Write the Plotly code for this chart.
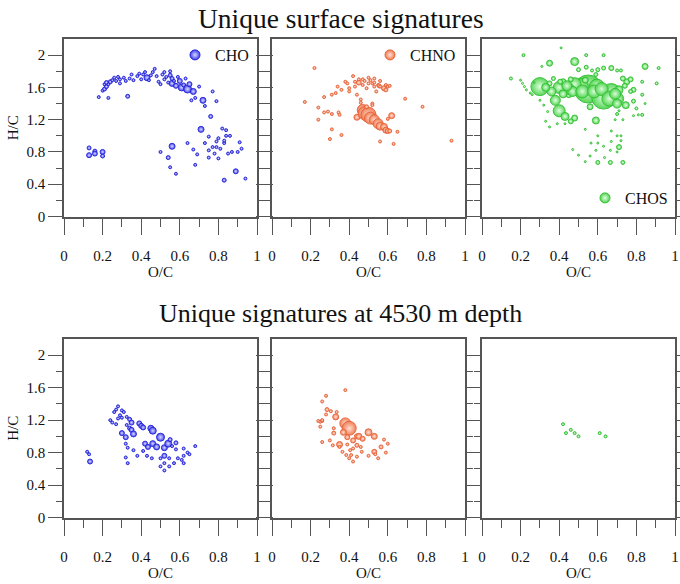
import plotly.graph_objects as go

W, H = 680, 584

# ---------------- data: unique surface signatures ----------------
cho_s_oc = [0.18,0.20,0.21,0.22,0.21,0.22,0.23,0.24,0.25,0.23,0.26,0.27,0.28,0.29,0.29,0.31,0.32,0.33,0.34,0.35,
            0.36,0.38,0.39,0.40,0.41,0.42,0.43,0.44,0.45,0.46,0.47,0.48,0.49,0.50,0.51,0.52,0.52,0.53,0.54,0.55,
            0.55,0.56,0.56,0.57,0.58,0.59,0.60,0.61,0.62,0.63,0.64,0.65,0.66,0.67,0.68,0.70,0.72,0.73,0.77,0.79,0.76,
            0.56,0.71,0.64,0.67,0.69,0.68,0.73,0.75,0.75,0.75,0.77,0.78,0.79,0.79,0.80,0.80,0.81,0.82,0.83,0.83,
            0.84,0.84,0.85,0.86,0.87,0.89,0.90,0.91,0.92,0.83,0.94,0.50,0.54,0.55,0.58,
            0.13,0.13,0.16,0.16,0.20,0.20]
cho_s_hc = [1.48,1.56,1.58,1.61,1.64,1.66,1.64,1.67,1.69,1.47,1.72,1.68,1.73,1.65,1.70,1.72,1.68,1.49,1.71,1.76,
            1.69,1.74,1.77,1.70,1.76,1.79,1.72,1.69,1.75,1.79,1.83,1.74,1.67,1.64,1.76,1.79,1.70,1.73,1.66,1.80,
            1.75,1.71,1.65,1.68,1.62,1.73,1.68,1.60,1.63,1.71,1.58,1.64,1.44,1.55,1.47,1.61,1.44,1.37,1.55,1.43,1.24,
            0.87,1.08,0.91,0.83,0.77,0.64,0.91,0.99,0.82,0.73,0.86,0.78,0.86,0.93,0.97,0.72,0.84,1.09,0.91,0.94,
            1.00,1.07,0.78,1.00,0.80,0.56,0.80,0.92,0.84,0.45,0.47,0.80,0.73,0.61,0.53,
            0.85,0.76,0.81,0.78,0.80,0.75]
cho_s_sz = [3,3,4,4,3,4,3,4,3,3,3,3,3,3,3,3,3,4,3,3,
            3,3,3,3,3,3,6,3,3,3,3,3,3,3,3,3,3,3,3,3,
            4,4,6,3,5,3,5,7,4,3,8,5,3,6,3,3,6,3,3,3,4,
            6,6,3,3,3,3,3,3,3,3,3,3,3,3,3,3,3,3,3,3,
            3,3,3,3,3,5,3,3,3,4,3,3,4,3,3,
            4,5,4,5,5,4]

chno_s_oc = [0.22,0.17,0.24,0.24,0.27,0.27,0.29,0.31,0.31,0.30,0.31,0.33,0.34,0.345,0.35,0.36,0.36,0.38,0.39,0.40,
             0.40,0.42,0.43,0.43,0.44,0.45,0.45,0.46,0.47,0.47,0.48,0.49,0.50,0.50,0.51,0.52,0.52,0.53,0.53,0.53,
             0.54,0.55,0.555,0.56,0.56,0.58,0.59,0.59,0.60,0.61,0.69,0.78,0.93,0.56,0.63,0.65,0.44,0.46,
             0.47,0.48,0.50,0.51,0.53,0.55,0.56,0.58,0.59,0.60,0.61,0.62,0.60,0.52,0.49]
chno_s_hc = [1.84,1.42,1.20,1.35,1.48,1.29,1.30,1.51,1.27,0.96,1.08,1.53,1.61,1.29,1.26,1.57,1.01,1.67,1.65,1.59,
             1.55,1.74,1.67,1.61,1.51,1.66,1.70,1.45,1.70,1.63,1.68,1.59,1.72,1.65,1.69,1.40,1.65,1.71,1.61,1.66,
             1.55,1.63,1.62,1.68,1.61,1.59,1.63,1.57,1.61,1.62,1.46,1.36,0.94,0.93,0.90,1.05,1.23,1.41,
             1.32,1.28,1.26,1.22,1.20,1.15,1.12,1.11,1.07,1.06,1.06,1.25,1.21,1.38,1.36]
chno_s_sz = [3,3,3,3,3,3,3,3,3,3,3,3,3,3,3,3,3,3,3,3,
             3,3,3,3,3,5,3,3,3,3,3,3,3,3,3,3,3,3,3,3,
             3,3,4,3,3,5,3,4,3,3,3,3,3,3,3,3,6,3,
             11,13,15,12,10,10,8,7,6,5,4,6,3,3,4]

chos_s_oc = [0.30,0.40,0.38,0.40,0.43,0.48,0.46,0.55,0.51,0.48,0.595,0.63,0.67,0.70,0.71,0.745,0.75,0.77,0.785,0.77,
             0.785,0.59,0.56,0.48,0.35,0.845,0.45,0.35,0.37,0.42,0.46,0.50,0.535,0.59,0.60,0.63,0.67,0.70,0.73,0.74,
             0.72,0.405,0.54,0.57,
             0.45,0.47,0.52,0.58,0.62,0.66,0.69,0.70,0.42,0.36,0.33,0.44,
             0.15,0.215,0.41,0.54,0.63,0.915,0.905,0.20,0.21,0.22,0.23,0.25,0.26,0.30,0.32,0.34,0.35,0.33,0.39,0.43,
             0.31,0.27,0.83,0.83,0.845,0.83,0.80,0.785,0.81,0.73,0.70,0.71,0.69,0.535,0.60,0.67,0.70,0.72,0.71,0.72,
             0.67,0.60,0.565,0.63,0.665,0.47,0.50,0.535,0.60,0.665,0.73,0.59,0.635,0.70,0.56]
chos_s_hc = [1.61,1.60,1.44,1.31,1.24,1.22,1.18,1.58,1.61,1.64,1.61,1.48,1.53,1.46,1.57,1.38,1.67,1.70,1.57,1.55,
             1.43,1.19,1.36,1.92,1.90,1.86,1.51,1.65,1.71,1.67,1.70,1.82,1.69,1.76,1.82,1.84,1.84,1.81,1.71,1.62,
             1.81,1.67,1.85,1.81,
             1.58,1.55,1.55,1.55,1.58,1.46,1.52,1.40,1.52,1.55,1.60,1.62,
             1.71,2.00,2.09,2.00,2.00,1.84,1.65,1.69,1.65,1.61,1.57,1.53,1.51,1.44,1.38,1.30,1.11,1.18,1.15,1.15,
             1.86,1.66,1.67,1.51,1.40,1.26,1.34,1.25,1.26,1.20,1.27,1.31,1.20,1.08,1.00,1.06,1.00,1.00,0.86,0.94,
             0.93,0.91,0.91,0.87,0.82,0.83,0.76,0.68,0.67,0.67,0.67,0.82,0.73,0.80,0.75]
chos_s_sz = [18,12,10,12,8,6,5,28,16,13,15,24,19,13,8,7,6,5,5,4,
             4,7,6,8,6,6,6,5,4,6,5,4,6,4,4,4,5,3,5,5,
             3,5,4,3,
             11,10,13,13,13,15,11,9,8,9,8,10,
             3,3,2,3,3,3,3,2,2,2,2,2,2,2,2,2,2,2,2,2,
             2,2,3,3,2,3,3,2,2,2,3,2,2,2,2,2,2,2,5,2,
             2,2,2,2,2,2,2,2,4,4,4,2,2,2,2]

# ---------------- data: unique signatures at 4530 m depth ----------------
cho_d_oc = [0.12,0.13,0.135,0.28,0.27,0.26,0.30,0.31,0.29,0.30,0.28,0.24,0.25,0.27,0.325,0.34,0.35,0.325,0.34,0.35,
            0.36,0.30,0.32,0.32,0.33,0.32,0.33,0.39,0.40,0.41,0.45,0.46,0.50,0.42,0.435,0.46,0.48,0.52,0.54,0.55,
            0.58,0.56,0.58,0.62,0.68,0.64,0.65,0.62,0.61,0.62,0.59,0.52,0.52,0.52,0.545,0.50,0.50,0.57,0.455,0.43,
            0.41,0.38,0.36,0.545]
cho_d_hc = [0.81,0.78,0.69,1.37,1.33,1.30,1.32,1.30,1.26,1.23,1.22,1.20,1.17,1.15,1.24,1.21,1.17,1.14,1.10,1.08,
            1.03,1.04,0.99,0.91,0.86,0.74,0.67,1.16,1.13,1.11,1.10,1.07,0.99,0.91,0.87,0.91,0.87,0.86,0.91,0.96,
            0.92,0.88,0.84,0.85,0.88,0.80,0.78,0.76,0.71,0.67,0.73,0.76,0.67,0.58,0.63,0.63,0.73,0.67,0.73,0.76,
            0.82,0.76,0.83,0.73]
cho_d_sz = [3,3,5,3,3,3,3,3,3,3,3,3,3,3,3,4,5,3,4,5,
            6,5,5,3,3,3,3,5,5,5,6,7,8,5,5,6,6,6,7,4,
            4,3,3,3,3,3,3,3,3,3,3,5,3,3,3,3,3,3,3,3,
            3,3,3,3]

chno_d_oc = [0.38,0.28,0.26,0.285,0.305,0.28,0.33,0.335,0.24,0.25,0.26,0.25,0.38,0.40,0.37,0.39,0.32,0.30,0.26,0.315,
             0.35,0.35,0.365,0.39,0.405,0.42,0.44,0.45,0.47,0.50,0.53,0.44,0.46,0.42,0.465,0.50,0.53,0.535,0.55,0.565,
             0.58,0.60,0.59,0.40,0.42,0.44,0.385,0.41,0.26,0.32]
chno_d_hc = [1.57,1.50,1.43,1.33,1.31,1.27,1.24,1.30,1.19,1.18,1.19,1.12,1.16,1.10,1.05,0.99,1.04,0.95,0.93,0.89,
             0.90,0.87,0.81,0.90,0.83,0.95,1.00,1.00,0.97,1.05,1.00,0.89,0.87,0.85,0.81,0.76,0.81,0.78,0.73,0.87,
             0.96,0.91,0.80,0.73,0.69,0.75,0.77,0.77,1.20,1.10]
chno_d_sz = [3,3,3,4,3,3,6,3,3,3,3,3,11,14,6,5,4,3,3,3,
             6,3,3,3,3,5,5,6,5,7,6,4,3,3,3,3,5,3,3,4,
             3,3,3,3,3,3,3,3,3,3]

chos_d_oc = [0.42,0.435,0.46,0.48,0.50,0.61,0.64]
chos_d_hc = [1.15,1.04,1.08,1.04,1.00,1.04,1.00]
chos_d_sz = [3,3,3,3,3,3,3]

classes = ["CHO", "CHNO", "CHOS"]
base_col = {"CHO": "#3c3cf0", "CHNO": "#f07a50", "CHOS": "#4fd44f"}
light_col = {"CHO": "#d8d8ff", "CHNO": "#ffe0d4", "CHOS": "#e0ffe0"}
edge_col = {"CHO": "#2525d8", "CHNO": "#e8643a", "CHOS": "#34c034"}

surface = {"CHO": (cho_s_oc, cho_s_hc, cho_s_sz),
           "CHNO": (chno_s_oc, chno_s_hc, chno_s_sz),
           "CHOS": (chos_s_oc, chos_s_hc, chos_s_sz)}
depth = {"CHO": (cho_d_oc, cho_d_hc, cho_d_sz),
         "CHNO": (chno_d_oc, chno_d_hc, chno_d_sz),
         "CHOS": (chos_d_oc, chos_d_hc, chos_d_sz)}

x_ticks = [0, 0.2, 0.4, 0.6, 0.8, 1.0]
x_ticktext = ["0", "0.2", "0.4", "0.6", "0.8", "1"]
x_minor = [0.1, 0.3, 0.5, 0.7, 0.9]
y_ticks = [0, 0.4, 0.8, 1.2, 1.6, 2.0]
y_ticktext = ["0", "0.4", "0.8", "1.2", "1.6", "2"]
y_minor = [0.2, 0.6, 1.0, 1.4, 1.8]

SERIF = "Liberation Serif"
AX = "#555555"

xdom = [(64 / W, 257 / W), (272 / W, 465 / W), (482 / W, 675 / W)]
ydom = [(1 - 216.5 / H, 1 - 39 / H), (1 - 517.5 / H, 1 - 339 / H)]

fig = go.Figure()

def marker(cls, sizes):
    return dict(size=sizes, color=base_col[cls], opacity=0.95,
                gradient=dict(type="radial", color=light_col[cls]),
                line=dict(color=edge_col[cls], width=1))

for r, data in enumerate([surface, depth]):
    for c, cls in enumerate(classes):
        k = r * 3 + c + 1
        sfx = "" if k == 1 else str(k)
        oc, hc, sz = data[cls]
        fig.add_trace(go.Scatter(x=oc, y=hc, mode="markers", marker=marker(cls, sz),
                                 xaxis="x" + sfx, yaxis="y" + sfx, showlegend=False,
                                 hoverinfo="x+y"))
        if r == 0:
            lg = "legend" if c == 0 else "legend" + str(c + 1)
            fig.add_trace(go.Scatter(x=[None], y=[None], mode="markers", name=cls,
                                     marker=dict(size=10, color=base_col[cls],
                                                 gradient=dict(type="radial", color=light_col[cls]),
                                                 line=dict(color=edge_col[cls], width=1)),
                                     xaxis="x" + sfx, yaxis="y" + sfx, legend=lg, showlegend=True))
        fig.layout["xaxis" + sfx] = dict(
            domain=xdom[c], anchor="y" + sfx, range=[0, 1], automargin=False,
            showline=True, linecolor=AX, linewidth=1.5, mirror=True,
            ticks="outside", ticklen=17, tickwidth=1.2, tickcolor=AX,
            tickvals=x_ticks, ticktext=x_ticktext, ticklabelstandoff=8,
            minor=dict(tickvals=x_minor, ticks="outside", ticklen=9, tickwidth=1.2, tickcolor=AX),
            showgrid=False, zeroline=False,
            tickfont=dict(family=SERIF, size=15, color="#111"),
            title=dict(text="O/C", font=dict(family=SERIF, size=15, color="#111"), standoff=2))
        fig.layout["yaxis" + sfx] = dict(
            domain=ydom[r], anchor="x" + sfx, range=[0, 2.2], automargin=False,
            showline=True, linecolor=AX, linewidth=1.5, mirror="ticks",
            ticks="outside", ticklen=14, tickwidth=1.2, tickcolor=AX,
            tickvals=y_ticks, ticktext=y_ticktext if c == 0 else [""] * len(y_ticks),
            minor=dict(tickvals=y_minor, ticks="outside", ticklen=6, tickwidth=1.2, tickcolor=AX),
            showgrid=False, zeroline=False,
            tickfont=dict(family=SERIF, size=15, color="#111"),
            title=dict(text="H/C" if c == 0 else "", font=dict(family=SERIF, size=15, color="#111"),
                       standoff=4))

leg_common = dict(font=dict(family=SERIF, size=16, color="#111"), bgcolor="rgba(0,0,0,0)",
                  itemsizing="trace", borderwidth=0)
fig.update_layout(
    legend=dict(x=175 / W, y=1 - 55 / H, xanchor="left", yanchor="middle", **leg_common),
    legend2=dict(x=370 / W, y=1 - 55 / H, xanchor="left", yanchor="middle", **leg_common),
    legend3=dict(x=585 / W, y=1 - 198 / H, xanchor="left", yanchor="middle", **leg_common),
)

fig.add_annotation(text="Unique surface signatures", x=341 / W, y=1 - 18 / H, xref="paper", yref="paper",
                   showarrow=False, font=dict(family=SERIF, size=27.5, color="#111"), xanchor="center", yanchor="middle")
fig.add_annotation(text="Unique signatures at 4530 m depth", x=340 / W, y=1 - 313 / H, xref="paper", yref="paper",
                   showarrow=False, font=dict(family=SERIF, size=26, color="#111"), xanchor="center", yanchor="middle")

fig.update_layout(width=W, height=H, margin=dict(l=0, r=0, t=0, b=0),
                  paper_bgcolor="white", plot_bgcolor="white")

fig.write_html("out.html", config={"displayModeBar": False},
               post_script="document.body.style.margin='0';document.body.style.padding='0';"
                           "document.documentElement.style.overflow='hidden';")
